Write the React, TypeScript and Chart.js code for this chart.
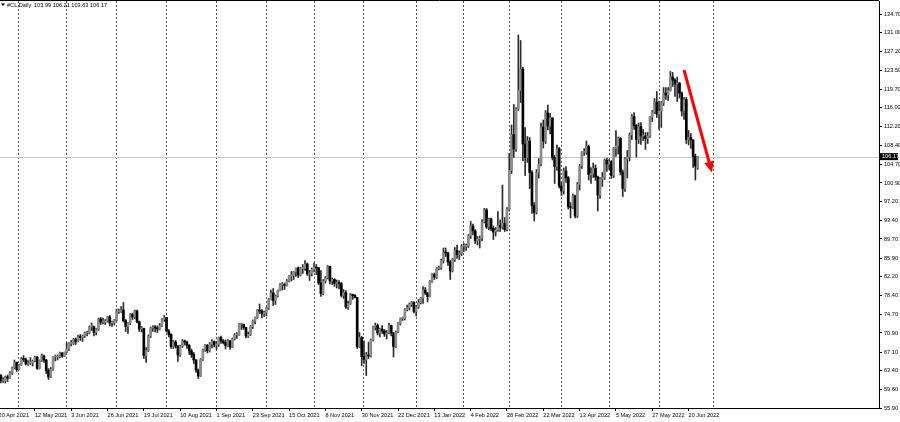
import React, { useEffect, useRef } from "react";
import { Chart, registerables } from "chart.js";
Chart.register(...registerables);

type Bar = [number, number, number, number]; // open, high, low, close

const apr2021: Bar[] = [
  [63.3, 63.6, 61.8, 62.4], [62.4, 62.6, 60.9, 61.4], [61.4, 62.0, 61.0, 61.4], [61.4, 62.3, 60.9, 62.1],
  [62.1, 62.5, 61.2, 61.9], [61.9, 63.2, 61.8, 62.9], [62.9, 64.1, 62.6, 63.9], [63.9, 65.5, 63.7, 65.0],
  [65.0, 65.1, 63.2, 63.6],
];
const may2021: Bar[] = [
  [63.6, 64.7, 63.5, 64.5], [64.5, 66.0, 64.4, 65.7], [65.7, 66.4, 65.2, 65.6], [65.6, 65.9, 64.5, 64.7],
  [64.7, 65.4, 64.4, 64.9], [64.9, 66.0, 64.6, 64.9], [64.9, 65.5, 64.3, 65.3], [65.3, 66.3, 65.1, 66.1],
  [66.1, 66.2, 63.6, 63.8], [63.8, 65.5, 63.7, 65.4], [65.4, 66.7, 65.2, 66.3], [66.3, 66.5, 65.0, 65.5],
  [65.5, 65.6, 62.8, 63.4], [63.4, 63.8, 61.6, 62.1], [62.1, 64.0, 62.0, 63.6], [63.6, 66.2, 63.4, 66.1],
  [66.1, 66.5, 65.3, 66.1], [66.1, 66.5, 65.5, 66.2], [66.2, 67.1, 65.9, 66.9], [66.9, 67.0, 66.0, 66.3],
  [66.3, 67.1, 66.2, 67.0],
];
const jun2021: Bar[] = [
  [67.0, 68.9, 66.9, 67.7], [67.7, 69.0, 67.4, 68.8], [68.8, 69.4, 68.3, 68.8], [68.8, 69.8, 68.6, 69.6],
  [69.6, 69.9, 68.6, 69.2], [69.2, 70.5, 69.1, 70.1], [70.1, 70.6, 69.4, 70.0], [70.0, 70.5, 69.2, 70.3],
  [70.3, 71.1, 70.0, 70.9], [70.9, 71.3, 70.3, 70.9], [70.9, 72.3, 70.7, 72.1], [72.1, 72.9, 71.4, 72.2],
  [72.2, 72.3, 70.3, 71.0], [71.0, 71.8, 70.5, 71.6], [71.6, 73.9, 71.4, 73.7], [73.7, 74.0, 72.6, 73.1],
  [73.1, 73.9, 72.7, 73.1], [73.1, 73.6, 72.6, 73.3], [73.3, 74.2, 73.1, 74.1], [74.1, 74.4, 72.3, 72.9],
  [72.9, 73.3, 72.2, 73.0], [73.0, 73.6, 72.5, 73.5],
];
const jul2021: Bar[] = [
  [73.5, 75.7, 73.3, 75.2], [75.2, 75.7, 74.8, 75.2], [75.2, 76.2, 75.0, 75.5], [75.5, 77.0, 73.1, 73.4],
  [73.4, 73.6, 71.2, 72.2], [72.2, 73.0, 70.8, 72.9], [72.9, 74.8, 72.6, 74.6], [74.6, 74.9, 73.6, 74.1],
  [74.1, 75.5, 73.8, 75.3], [75.3, 75.5, 72.9, 73.1], [73.1, 73.3, 71.2, 71.7], [71.7, 72.2, 71.1, 71.8],
  [71.8, 71.9, 65.8, 66.4], [66.4, 68.0, 65.0, 67.4], [67.4, 70.5, 67.2, 70.3], [70.3, 72.1, 70.0, 71.9],
  [71.9, 72.4, 71.2, 72.1], [72.1, 72.4, 71.1, 71.9], [71.9, 72.3, 71.0, 71.7], [71.7, 72.8, 71.5, 72.4],
  [72.4, 73.8, 72.2, 73.6], [73.6, 74.4, 73.2, 74.0],
];
const aug2021: Bar[] = [
  [74.0, 74.0, 71.1, 71.3], [71.3, 71.6, 70.1, 70.6], [70.6, 70.8, 67.8, 68.2], [68.2, 69.4, 67.8, 69.1],
  [69.1, 69.4, 67.9, 68.3], [68.3, 68.4, 65.2, 66.5], [66.5, 68.5, 66.2, 68.3], [68.3, 69.6, 68.0, 69.3],
  [69.3, 69.5, 68.5, 69.1], [69.1, 69.3, 67.8, 68.4], [68.4, 68.6, 66.6, 67.3], [67.3, 67.7, 66.0, 66.6],
  [66.6, 67.0, 64.8, 65.5], [65.5, 65.6, 63.0, 63.5], [63.5, 63.7, 61.8, 62.3], [62.3, 65.8, 62.2, 65.6],
  [65.6, 67.7, 65.4, 67.5], [67.5, 68.6, 67.2, 68.4], [68.4, 68.6, 66.9, 67.4], [67.4, 69.0, 67.1, 68.7],
  [68.7, 69.6, 67.9, 69.2], [69.2, 69.3, 68.1, 68.5],
];
const sep2021: Bar[] = [
  [68.5, 69.1, 67.6, 68.6], [68.6, 70.1, 68.2, 70.0], [70.0, 70.3, 68.8, 69.3], [69.3, 69.6, 68.7, 69.0],
  [69.0, 69.5, 67.7, 68.4], [68.4, 69.6, 68.2, 69.3], [69.3, 69.4, 67.6, 68.1], [68.1, 69.9, 68.0, 69.7],
  [69.7, 70.8, 69.5, 70.5], [70.5, 71.0, 69.8, 70.5], [70.5, 72.8, 70.4, 72.6], [72.6, 72.9, 71.6, 72.6],
  [72.6, 72.7, 71.6, 72.0], [72.0, 72.1, 69.9, 70.3], [70.3, 71.1, 70.0, 70.6], [70.6, 72.4, 70.4, 72.2],
  [72.2, 73.5, 71.8, 73.3], [73.3, 74.1, 72.7, 74.0], [74.0, 75.6, 73.8, 75.5], [75.5, 76.7, 74.8, 75.3],
  [75.3, 75.6, 73.9, 74.8], [74.8, 75.3, 74.2, 75.0],
];
const oct2021: Bar[] = [
  [75.0, 76.0, 74.3, 75.9], [75.9, 77.8, 75.6, 77.6], [77.6, 79.5, 77.5, 78.9], [78.9, 79.8, 76.4, 77.4],
  [77.4, 78.5, 76.6, 78.3], [78.3, 79.5, 78.1, 79.4], [79.4, 80.8, 79.3, 80.5], [80.5, 81.0, 79.5, 80.6],
  [80.6, 80.9, 79.6, 80.4], [80.4, 81.6, 80.3, 81.3], [81.3, 82.4, 81.1, 82.3], [82.3, 83.2, 81.3, 82.4],
  [82.4, 83.2, 81.6, 83.1], [83.1, 83.9, 82.2, 83.9], [83.9, 84.1, 82.0, 82.5], [82.5, 84.0, 82.3, 83.8],
  [83.8, 84.6, 82.8, 83.8], [83.8, 85.4, 83.4, 84.7], [84.7, 84.9, 82.4, 82.7], [82.7, 83.4, 81.4, 82.8],
  [82.8, 83.9, 82.3, 83.6],
];
const nov2021: Bar[] = [
  [83.6, 84.9, 83.1, 84.1], [84.1, 84.6, 82.6, 83.9], [83.9, 84.0, 80.6, 80.9], [80.9, 83.4, 78.2, 78.8],
  [78.8, 81.6, 78.5, 81.3], [81.3, 82.2, 80.9, 81.9], [81.9, 84.4, 81.7, 84.2], [84.2, 84.3, 80.7, 81.3],
  [81.3, 81.9, 80.6, 81.6], [81.6, 81.8, 80.2, 80.8], [80.8, 81.5, 79.9, 80.9], [80.9, 81.4, 79.7, 80.8],
  [80.8, 81.0, 78.1, 78.4], [78.4, 79.6, 77.8, 79.0], [79.0, 79.4, 75.8, 76.1], [76.1, 77.3, 75.6, 76.8],
  [76.8, 78.8, 76.6, 78.5], [78.5, 78.7, 77.6, 78.4], [78.4, 78.6, 77.9, 78.0], [78.0, 78.0, 67.8, 68.2],
  [68.2, 71.0, 68.0, 70.0], [70.0, 70.2, 64.4, 66.2],
];
const dec2021: Bar[] = [
  [66.2, 69.3, 64.8, 65.6], [65.6, 67.0, 62.4, 66.5], [66.5, 69.1, 65.8, 66.3], [66.3, 69.7, 66.1, 69.5],
  [69.5, 72.3, 69.3, 72.1], [72.1, 72.9, 71.5, 72.4], [72.4, 72.7, 70.5, 70.9], [70.9, 71.9, 70.1, 71.7],
  [71.7, 72.4, 70.8, 71.3], [71.3, 71.6, 70.2, 70.7], [70.7, 71.4, 69.7, 70.9], [70.9, 72.9, 70.7, 72.4],
  [72.4, 72.5, 70.3, 70.9], [70.9, 71.0, 66.1, 68.2], [68.2, 71.3, 68.0, 71.1], [71.1, 73.0, 70.9, 72.8],
  [72.8, 73.9, 72.5, 73.8], [73.8, 74.1, 73.4, 73.8], [73.8, 75.8, 73.5, 75.6], [75.6, 76.5, 75.3, 76.0],
  [76.0, 76.9, 75.5, 76.6], [76.6, 77.2, 76.2, 77.0], [77.0, 77.2, 74.9, 75.2],
];
const jan2022: Bar[] = [
  [75.2, 76.4, 74.3, 76.1], [76.1, 77.6, 75.8, 77.0], [77.0, 78.0, 76.7, 77.9], [77.9, 80.2, 76.8, 79.5],
  [79.5, 80.0, 78.6, 78.9], [78.9, 79.0, 77.1, 78.2], [78.2, 81.4, 78.1, 81.2], [81.2, 82.8, 81.0, 82.6],
  [82.6, 82.9, 81.6, 82.1], [82.1, 84.0, 81.8, 83.8], [83.8, 84.3, 83.5, 84.0], [84.0, 85.7, 83.6, 85.4],
  [85.4, 87.9, 84.9, 87.0], [87.0, 87.9, 86.2, 86.9], [86.9, 87.1, 84.4, 85.1], [85.1, 85.4, 81.6, 83.3],
  [83.3, 85.8, 83.1, 85.6], [85.6, 88.0, 85.2, 87.4], [87.4, 88.5, 85.8, 86.6], [86.6, 87.3, 85.6, 86.8],
  [86.8, 88.6, 86.4, 88.2],
];
const feb2022: Bar[] = [
  [88.2, 88.8, 87.2, 88.2], [88.2, 88.7, 87.4, 88.3], [88.3, 90.6, 88.0, 90.3], [90.3, 93.2, 89.8, 92.3],
  [92.3, 92.7, 90.5, 91.3], [91.3, 91.6, 88.8, 89.4], [89.4, 90.2, 88.5, 89.7], [89.7, 90.3, 87.9, 89.9],
  [89.9, 93.6, 89.3, 93.1], [93.1, 95.8, 92.9, 95.5], [95.5, 95.8, 91.8, 92.1], [92.1, 93.9, 91.5, 93.7],
  [93.7, 93.9, 91.3, 91.8], [91.8, 92.3, 89.6, 91.1], [91.1, 92.0, 90.3, 91.5], [91.5, 95.2, 91.2, 92.4],
  [92.4, 93.5, 91.2, 92.1], [92.1, 100.5, 91.7, 92.8], [92.8, 94.0, 91.2, 91.6], [91.6, 96.0, 91.3, 95.7],
];
const mar2022: Bar[] = [
  [95.7, 106.8, 95.3, 103.4], [103.4, 112.5, 102.8, 110.6], [110.6, 116.6, 106.0, 107.7], [107.7, 116.0, 107.2, 115.7],
  [115.7, 130.5, 115.4, 119.4], [119.4, 129.4, 117.0, 123.7], [123.7, 124.1, 105.3, 108.7], [108.7, 112.0, 102.4, 106.0],
  [106.0, 110.2, 105.0, 109.3], [109.3, 110.0, 99.8, 103.0], [103.0, 103.4, 94.8, 96.4], [96.4, 97.0, 93.3, 95.0],
  [95.0, 103.6, 94.7, 103.0], [103.0, 105.8, 101.9, 104.7], [104.7, 112.9, 104.3, 112.1], [112.1, 113.5, 107.9, 109.3],
  [109.3, 115.4, 108.8, 114.9], [114.9, 116.5, 111.5, 112.3], [112.3, 114.8, 110.7, 113.9], [113.9, 114.0, 105.5, 106.0],
  [106.0, 106.4, 100.8, 104.2], [104.2, 108.5, 103.4, 107.8], [107.8, 108.0, 99.9, 100.3],
];
const apr2022: Bar[] = [
  [100.3, 101.0, 98.4, 99.3], [99.3, 103.9, 98.7, 103.3], [103.3, 104.2, 101.0, 102.0], [102.0, 102.2, 95.7, 96.2],
  [96.2, 97.0, 93.9, 96.0], [96.0, 98.7, 95.8, 98.3], [98.3, 98.5, 93.9, 94.3], [94.3, 101.0, 94.0, 100.6],
  [100.6, 104.6, 99.5, 104.3], [104.3, 107.2, 103.8, 107.0], [107.0, 107.8, 106.4, 107.0], [107.0, 109.3, 106.6, 108.2],
  [108.2, 108.5, 101.5, 102.6], [102.6, 104.0, 100.8, 102.8], [102.8, 104.9, 102.0, 103.8], [103.8, 104.5, 101.4, 102.1],
  [102.1, 102.3, 95.3, 98.5], [98.5, 102.0, 97.8, 101.7], [101.7, 103.0, 100.2, 102.0], [102.0, 105.7, 101.6, 105.4],
  [105.4, 105.9, 103.2, 104.7],
];
const may2022: Bar[] = [
  [104.7, 105.6, 103.6, 105.2], [105.2, 105.4, 101.8, 102.4], [102.4, 108.0, 102.0, 107.8], [107.8, 111.4, 106.2, 108.3],
  [108.3, 110.1, 106.7, 109.8], [109.8, 110.0, 102.5, 103.1], [103.1, 103.5, 98.2, 99.8], [99.8, 106.0, 99.2, 105.7],
  [105.7, 107.4, 101.9, 106.1], [106.1, 110.9, 105.3, 110.5], [110.5, 114.6, 109.6, 114.2], [114.2, 115.0, 111.6, 112.4],
  [112.4, 112.6, 106.1, 109.6], [109.6, 112.9, 108.8, 112.2], [112.2, 113.0, 108.6, 110.3], [110.3, 111.6, 109.4, 110.3],
  [110.3, 111.0, 107.6, 109.8], [109.8, 111.0, 108.8, 110.3], [110.3, 114.2, 110.0, 114.1], [114.1, 115.4, 113.2, 115.1],
  [115.1, 117.8, 114.8, 117.0], [117.0, 119.2, 114.0, 114.7],
];
const jun2022: Bar[] = [
  [114.7, 117.3, 111.6, 115.3], [115.3, 117.2, 112.0, 116.9], [116.9, 120.0, 116.4, 118.9], [118.9, 120.0, 117.6, 118.5],
  [118.5, 120.0, 117.4, 119.4], [119.4, 123.2, 119.3, 122.1], [122.1, 123.0, 120.2, 121.5], [121.5, 121.8, 118.2, 120.7],
  [120.7, 122.1, 117.2, 120.9], [120.9, 121.0, 117.9, 118.9], [118.9, 119.1, 114.3, 115.3], [115.3, 118.0, 113.6, 117.6],
  [117.6, 118.0, 108.8, 109.6], [109.6, 111.4, 108.5, 110.0], [110.0, 110.8, 107.8, 109.5], [109.5, 109.6, 104.0, 106.2],
  [106.2, 106.7, 101.5, 104.3], [103.99, 106.21, 103.63, 106.17],
];

const months: Bar[][] = [
  apr2021, may2021, jun2021, jul2021, aug2021, sep2021, oct2021, nov2021,
  dec2021, jan2022, feb2022, mar2022, apr2022, may2022, jun2022,
];

const dateLabels = [
  "20 Apr 2021", "12 May 2021", "3 Jun 2021", "26 Jun 2021", "19 Jul 2021", "10 Aug 2021",
  "1 Sep 2021", "23 Sep 2021", "15 Oct 2021", "8 Nov 2021", "30 Nov 2021", "22 Dec 2021",
  "13 Jan 2022", "4 Feb 2022", "28 Feb 2022", "22 Mar 2022", "13 Apr 2022", "5 May 2022",
  "27 May 2022", "20 Jun 2022",
];
const labelStep = 16;
const monthStartIdx = [9, 30, 52, 74, 96, 118, 139, 161, 184, 205, 225, 248, 269, 291, 315];
const priceTicks = [
  55.9, 59.6, 63.4, 67.1, 70.9, 74.7, 78.4, 82.2, 85.9, 89.7, 93.4,
  97.2, 100.9, 104.7, 108.4, 112.2, 116.0, 119.7, 123.5, 127.2, 131.0, 134.7,
];
const symbolTitle = "#CL,Daily";
const lastBarText = "103.99 106.21 103.63 106.17";
const lastPrice = 106.17;
const arrowFrom = { x: 302.0, y: 123.5 };
const arrowTo = { x: 314.3, y: 103.0 };

const X_MIN = 0.63;
const X_MAX = 387.9;
const Y_MIN = 55.9;
const Y_MAX = 137.3;
const FONT = "'Liberation Sans', Arial, sans-serif";
const FS = 5.6;

const zeroPad = (s: any) => {
  s.paddingTop = 0;
  s.paddingBottom = 0;
  s.paddingLeft = 0;
  s.paddingRight = 0;
};

const overlayPlugin = {
  id: "overlay",
  beforeDatasetsDraw(chart: any) {
    const { ctx, chartArea, scales } = chart;
    const y = Math.round(scales.y.getPixelForValue(lastPrice)) + 0.5;
    ctx.save();
    ctx.strokeStyle = "#c8c8c8";
    ctx.lineWidth = 1;
    ctx.beginPath();
    ctx.moveTo(chartArea.left, y);
    ctx.lineTo(chartArea.right, y);
    ctx.stroke();
    ctx.restore();
  },
  afterDraw(chart: any) {
    const { ctx, chartArea, scales } = chart;
    ctx.save();
    ctx.strokeStyle = "#000";
    ctx.lineWidth = 1;
    ctx.beginPath();
    ctx.moveTo(chartArea.left, chartArea.top - 0.5);
    ctx.lineTo(chartArea.right, chartArea.top - 0.5);
    ctx.stroke();

    const py = scales.y.getPixelForValue(lastPrice);
    ctx.fillStyle = "#000";
    ctx.fillRect(chartArea.right + 1, py - 3.5, 18, 7);
    ctx.fillStyle = "#fff";
    ctx.font = `${FS}px ${FONT}`;
    ctx.textBaseline = "middle";
    ctx.textAlign = "left";
    ctx.fillText(lastPrice.toFixed(2), chartArea.right + 3, py + 0.3);

    ctx.fillStyle = "#000";
    ctx.beginPath();
    ctx.moveTo(1, 3.5);
    ctx.lineTo(5, 3.5);
    ctx.lineTo(3, 6);
    ctx.closePath();
    ctx.fill();
    ctx.fillText(symbolTitle, 7, 5);
    ctx.fillText(lastBarText, 34, 5);

    const x1 = scales.x.getPixelForValue(arrowFrom.x);
    const y1 = scales.y.getPixelForValue(arrowFrom.y);
    const x2 = scales.x.getPixelForValue(arrowTo.x);
    const y2 = scales.y.getPixelForValue(arrowTo.y);
    const ang = Math.atan2(y2 - y1, x2 - x1);
    const headLen = 11;
    const headHalf = 5;
    const bx = x2 - Math.cos(ang) * headLen;
    const by = y2 - Math.sin(ang) * headLen;
    ctx.strokeStyle = "#ff0000";
    ctx.fillStyle = "#ff0000";
    ctx.lineWidth = 3;
    ctx.lineCap = "butt";
    ctx.beginPath();
    ctx.moveTo(x1, y1);
    ctx.lineTo(bx, by);
    ctx.stroke();
    ctx.beginPath();
    ctx.moveTo(x2, y2);
    ctx.lineTo(bx + Math.sin(ang) * headHalf, by - Math.cos(ang) * headHalf);
    ctx.lineTo(bx - Math.sin(ang) * headHalf, by + Math.cos(ang) * headHalf);
    ctx.closePath();
    ctx.fill();
    ctx.restore();
  },
};

export default function App() {
  const canvasRef = useRef<HTMLCanvasElement | null>(null);

  useEffect(() => {
    if (!canvasRef.current) return;
    const bars: Bar[] = months.flat() as Bar[];
    const bodies = bars.map((b, i) => ({ x: i, y: [b[0], b[3]] }));
    const wicks = bars.map((b, i) => ({ x: i, y: [b[2], b[1]] }));
    const bodyColors = bars.map((b) => (b[3] >= b[0] ? "#8a8a8a" : "#000000"));

    const chart = new Chart(canvasRef.current, {
      type: "bar",
      data: {
        datasets: [
          {
            label: "body",
            data: bodies as any,
            backgroundColor: bodyColors,
            barThickness: 2,
            minBarLength: 1,
            grouped: false,
            order: 0,
          } as any,
          {
            label: "wick",
            data: wicks as any,
            backgroundColor: "#2a2a2a",
            barThickness: 1,
            grouped: false,
            order: 1,
          } as any,
        ],
      },
      plugins: [overlayPlugin],
      options: {
        animation: false,
        responsive: false,
        devicePixelRatio: 1,
        events: [],
        layout: { padding: { top: 1, left: 0, right: 0, bottom: 0 } },
        plugins: { legend: { display: false }, tooltip: { enabled: false } },
        scales: {
          x: {
            type: "linear",
            position: "bottom",
            min: X_MIN,
            max: X_MAX,
            offset: false,
            grid: { offset: false, drawOnChartArea: false, drawTicks: true, tickLength: 3, color: "#000", tickColor: "#000" },
            border: { display: true, color: "#000", width: 1 },
            ticks: {
              autoSkip: false,
              maxRotation: 0,
              minRotation: 0,
              align: "start",
              padding: 1,
              color: "#000",
              font: { family: FONT, size: FS },
              callback: (_v: any, i: number) => dateLabels[i] ?? "",
            },
            afterBuildTicks: (s: any) => {
              s.ticks = dateLabels.map((_, k) => ({ value: k * labelStep }));
            },
            afterFit: (s: any) => {
              s.height = 14;
              zeroPad(s);
            },
          },
          x2: {
            type: "linear",
            position: "top",
            min: X_MIN,
            max: X_MAX,
            offset: false,
            grid: { offset: false, drawOnChartArea: true, drawTicks: false, color: "#555", lineWidth: 1 },
            border: { display: false, dash: [2, 2] },
            ticks: { display: false },
            afterBuildTicks: (s: any) => {
              s.ticks = monthStartIdx.map((v) => ({ value: v }));
            },
            afterFit: (s: any) => {
              s.height = 0;
              zeroPad(s);
            },
          },
          y: {
            type: "linear",
            position: "right",
            min: Y_MIN,
            max: Y_MAX,
            grid: { offset: false, drawOnChartArea: false, drawTicks: true, tickLength: 3, color: "#000", tickColor: "#000" },
            border: { display: true, color: "#000", width: 1 },
            ticks: {
              padding: 2,
              color: "#000",
              font: { family: FONT, size: FS },
              callback: (v: any) => Number(v).toFixed(2),
            },
            afterBuildTicks: (s: any) => {
              s.ticks = priceTicks.map((v) => ({ value: v }));
            },
            afterFit: (s: any) => {
              s.width = 21;
              zeroPad(s);
            },
          },
        },
      } as any,
    });
    return () => chart.destroy();
  }, []);

  return (
    <div style={{ position: "fixed", left: 0, top: 0, width: 900, height: 422, background: "#fff" }}>
      <canvas ref={canvasRef} width={900} height={422} style={{ display: "block" }} />
    </div>
  );
}
